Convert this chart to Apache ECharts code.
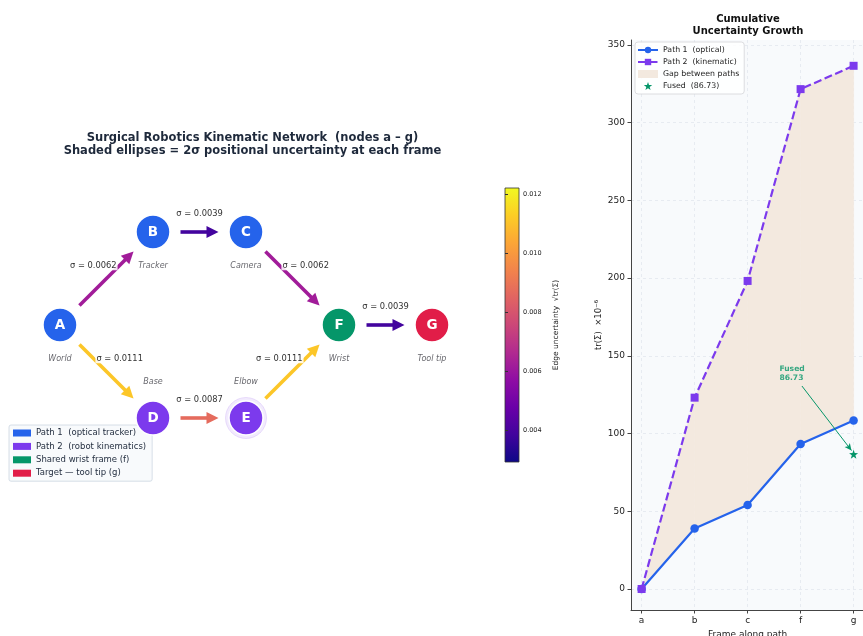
<!DOCTYPE html>
<html>
<head>
<meta charset="utf-8">
<script src="https://cdn.jsdelivr.net/npm/echarts@6/dist/echarts.min.js"></script>
<style>
  html, body { margin: 0; padding: 0; background: #ffffff; }
  #chart { width: 863px; height: 636px; }
</style>
</head>
<body>
<div id="chart"></div>
<script>
// ---- Kinematic network: frames (layout in graph units) ----
const nodeIds    = ['A', 'B', 'C', 'D', 'E', 'F', 'G'];
const nodeNames  = ['World', 'Tracker', 'Camera', 'Base', 'Elbow', 'Wrist', 'Tool tip'];
const nodeX      = [0, 1, 2, 1, 2, 3, 4];
const nodeY      = [0, 1, 1, -1, -1, 0, 0];
const nodeColors = ['#2563eb', '#2563eb', '#2563eb', '#7c3aed', '#7c3aed', '#059669', '#e11d48'];

// ---- Edges and their per-edge sigma ----
const edgeFrom  = ['A', 'B', 'C', 'A', 'D', 'E', 'F'];
const edgeTo    = ['B', 'C', 'F', 'D', 'E', 'F', 'G'];
const edgeSigma = [0.0062, 0.0039, 0.0062, 0.0111, 0.0087, 0.0111, 0.0039];

// ---- Cumulative uncertainty along each path, tr(Σ) ×1e-6 ----
const frames     = ['a', 'b', 'c', 'f', 'g'];
const path1Trace = [0, 38.9, 54.1, 93.3, 108.4];
const path2Trace = [0, 123.1, 198.2, 321.6, 336.6];
const fusedTrace = 86.73;

// ---- Tick labels ----
const traceTicks = [0, 50, 100, 150, 200, 250, 300, 350];
const cbarTicks  = [0.004, 0.006, 0.008, 0.010, 0.012];

const FONT = 'DejaVu Sans';

// plasma colormap
const PLASMA = ['#0d0887', '#41049d', '#6a00a8', '#8f0da4', '#b12a90', '#cc4778',
                '#e16462', '#f2844b', '#fca636', '#fcce25', '#f0f921'];
function hex2rgb(h) { return [1, 3, 5].map(i => parseInt(h.substr(i, 2), 16)); }
function plasma(t) {
  t = Math.max(0, Math.min(1, t));
  const f = t * (PLASMA.length - 1);
  const i = Math.min(PLASMA.length - 2, Math.floor(f));
  const w = f - i;
  const a = hex2rgb(PLASMA[i]), b = hex2rgb(PLASMA[i + 1]);
  const c = a.map((v, k) => Math.round(v + (b[k] - v) * w));
  return 'rgb(' + c.join(',') + ')';
}
const sigMin = Math.min(...edgeSigma) * 0.75;
const sigMax = Math.max(...edgeSigma) * 1.1;
const sigNorm = s => (s - sigMin) / (sigMax - sigMin);

const idx = id => nodeIds.indexOf(id);
const edgeData = edgeFrom.map((f, i) => {
  const a = idx(f), b = idx(edgeTo[i]);
  return [nodeX[a], nodeY[a], nodeX[b], nodeY[b], edgeSigma[i]];
});

const nodeData = nodeIds.map((id, i) => ({
  value: [nodeX[i], nodeY[i]],
  itemStyle: { color: nodeColors[i] },
  label: { formatter: id }
}));

const nameData = nodeNames.map((n, i) => ({
  value: [nodeX[i], nodeY[i]],
  label: { formatter: n, offset: nodeY[i] < 0 ? [0, -36] : [0, 34] }
}));

// one quadrilateral per segment between the two path curves
const gapData = frames.slice(0, -1).map((f, i) =>
  [i, path1Trace[i], path2Trace[i], i + 1, path1Trace[i + 1], path2Trace[i + 1]]);

const STAR = 'path://M0,-10 L2.35,-3.24 L9.51,-3.09 L3.8,1.24 L5.88,8.09 L0,4 L-5.88,8.09 L-3.8,1.24 L-9.51,-3.09 L-2.35,-3.24 Z';

const legendLeft = ['Path 1  (optical tracker)', 'Path 2  (robot kinematics)',
                    'Shared wrist frame (f)', 'Target — tool tip (g)'];
const legendLeftColors = ['#2563eb', '#7c3aed', '#059669', '#e11d48'];

const GAP_COLOR = '#f3e9df';

function edgeRender(params, api) {
  const x1 = api.value(0), y1 = api.value(1), x2 = api.value(2), y2 = api.value(3);
  const sigma = api.value(4);
  const p1 = api.coord([x1, y1]), p2 = api.coord([x2, y2]);
  const dx = p2[0] - p1[0], dy = p2[1] - p1[1];
  const L = Math.hypot(dx, dy), ux = dx / L, uy = dy / L;
  const gap = 27.5, head = 12, hw = 6;
  const s = [p1[0] + ux * gap, p1[1] + uy * gap];
  const t = [p2[0] - ux * gap, p2[1] - uy * gap];
  const b = [t[0] - ux * head, t[1] - uy * head];
  const nx = -uy, ny = ux;
  const color = plasma(sigNorm(sigma));
  // label sits beside the edge midpoint, offset along the left-hand normal
  const mx = (x1 + x2) / 2, my = (y1 + y2) / 2;
  const dl = Math.hypot(x2 - x1, y2 - y1);
  const lp = api.coord([mx - (y2 - y1) / dl * 0.2, my + (x2 - x1) / dl * 0.2]);
  return {
    type: 'group',
    children: [
      { type: 'line', shape: { x1: s[0], y1: s[1], x2: b[0] + ux * 1, y2: b[1] + uy * 1 },
        style: { stroke: color, lineWidth: 3.6, lineCap: 'butt' } },
      { type: 'polygon', shape: { points: [t, [b[0] + nx * hw, b[1] + ny * hw], [b[0] - nx * hw, b[1] - ny * hw]] },
        style: { fill: color } },
      { type: 'text', z2: 50, x: lp[0], y: lp[1],
        style: { text: 'σ = ' + sigma.toFixed(4), fill: '#333333', font: '8.3px "DejaVu Sans"',
                 align: 'center', verticalAlign: 'middle',
                 backgroundColor: 'rgba(255,255,255,0.85)', padding: [1, 1] } }
    ]
  };
}

function gapRender(params, api) {
  const pts = [
    api.coord([api.value(0), api.value(1)]),
    api.coord([api.value(3), api.value(4)]),
    api.coord([api.value(3), api.value(5)]),
    api.coord([api.value(0), api.value(2)])
  ];
  return { type: 'polygon', shape: { points: pts },
           style: { fill: GAP_COLOR, stroke: GAP_COLOR, lineWidth: 0.6 } };
}

const option = {
  backgroundColor: '#ffffff',
  animation: false,
  textStyle: { fontFamily: FONT },
  title: [
    { text: 'Surgical Robotics Kinematic Network  (nodes a – g)\nShaded ellipses = 2σ positional uncertainty at each frame',
      left: 252.5, top: 131, padding: 0, textAlign: 'center',
      textStyle: { fontFamily: FONT, fontSize: 11.5, fontWeight: 'bold', color: '#1e293b', lineHeight: 13.5 } },
    { text: 'Cumulative\nUncertainty Growth',
      left: 748, top: 13, padding: 0, textAlign: 'center',
      textStyle: { fontFamily: FONT, fontSize: 10, fontWeight: 'bold', color: '#111111', lineHeight: 12.5 } }
  ],
  grid: [
    // network canvas
    { left: 13.5, top: 185.5, width: 465, height: 279, show: false, outerBoundsMode: 'none' },
    // cumulative uncertainty plot
    { left: 631, top: 40, width: 233.2, height: 570, show: true, backgroundColor: '#f8fafc', borderWidth: 0,
      outerBoundsMode: 'none' },
    // colour bar
    { left: 505, top: 188, width: 14, height: 274, show: true, borderColor: '#333333', borderWidth: 0.8,
      outerBoundsMode: 'none',
      backgroundColor: { type: 'linear', x: 0, y: 1, x2: 0, y2: 0,
        colorStops: PLASMA.map((c, i) => ({ offset: i / (PLASMA.length - 1), color: c })) } }
  ],
  xAxis: [
    { gridIndex: 0, type: 'value', min: -0.5, max: 4.5, show: false },
    { gridIndex: 1, type: 'value', min: -0.2, max: 4.2,
      name: 'Frame along path', nameLocation: 'middle', nameGap: 18,
      nameTextStyle: { fontFamily: FONT, fontSize: 9, color: '#222222' },
      axisLine: { show: true, onZero: false, lineStyle: { color: '#444444', width: 1 } },
      axisTick: { show: true, length: 3.5, customValues: frames.map((f, i) => i), lineStyle: { color: '#444444' } },
      axisLabel: { customValues: frames.map((f, i) => i), formatter: v => frames[Math.round(v)],
                   fontFamily: FONT, fontSize: 9, color: '#222222', margin: 6 },
      splitLine: { show: true, lineStyle: { color: '#e3e7ee', type: [3, 3], width: 0.8 } } },
    { gridIndex: 2, type: 'value', min: 0, max: 1, show: false }
  ],
  yAxis: [
    { gridIndex: 0, type: 'value', min: -1.5, max: 1.5, show: false },
    { gridIndex: 1, type: 'value', min: -13.5, max: 353.2,
      name: 'tr(Σ)  ×10⁻⁶', nameLocation: 'middle', nameGap: 28,
      nameTextStyle: { fontFamily: FONT, fontSize: 8.5, color: '#222222' },
      axisLine: { show: true, onZero: false, lineStyle: { color: '#444444', width: 1 } },
      axisTick: { show: true, length: 3.5, customValues: traceTicks, lineStyle: { color: '#444444' } },
      axisLabel: { customValues: traceTicks, fontFamily: FONT, fontSize: 9, color: '#222222', margin: 6 },
      splitLine: { show: true, lineStyle: { color: '#e3e7ee', type: [3, 3], width: 0.8 } } },
    { gridIndex: 2, type: 'value', min: sigMin, max: sigMax, position: 'right',
      name: 'Edge uncertainty  √tr(Σ)', nameLocation: 'middle', nameGap: 33, nameRotate: 90,
      nameTextStyle: { fontFamily: FONT, fontSize: 7.5, color: '#222222' },
      axisLine: { show: false },
      axisTick: { show: true, length: 3, customValues: cbarTicks, lineStyle: { color: '#333333' } },
      axisLabel: { customValues: cbarTicks, formatter: v => v.toFixed(3),
                   fontFamily: FONT, fontSize: 6.5, color: '#222222', margin: 4 },
      splitLine: { show: false } }
  ],
  legend: [
    { data: legendLeft, orient: 'vertical', left: 9, top: 425, icon: 'rect',
      itemWidth: 18, itemHeight: 7, itemGap: 3.4, padding: [3, 6, 3, 4],
      backgroundColor: '#f8fafc', borderColor: '#cbd5e1', borderWidth: 0.8, borderRadius: 2,
      textStyle: { fontFamily: FONT, fontSize: 8.5, color: '#1e293b', lineHeight: 10 },
      selectedMode: false },
    { data: [
        { name: 'Path 1  (optical)' },
        { name: 'Path 2  (kinematic)' },
        { name: 'Gap between paths', icon: 'rect', itemStyle: { color: GAP_COLOR } },
        { name: 'Fused  (86.73)', icon: STAR }
      ],
      orient: 'vertical', left: 635, top: 42, itemWidth: 20, itemHeight: 8, itemGap: 3,
      padding: [3.5, 5, 3.5, 2],
      backgroundColor: 'rgba(255,255,255,0.85)', borderColor: '#d4d4d8', borderWidth: 0.8, borderRadius: 3,
      textStyle: { fontFamily: FONT, fontSize: 7.8, color: '#222222', lineHeight: 9 },
      selectedMode: false }
  ],
  series: [
    // legend entries for the network
    ...legendLeft.map((n, i) => ({ name: n, type: 'scatter', xAxisIndex: 0, yAxisIndex: 0, data: [],
                                   itemStyle: { color: legendLeftColors[i], opacity: 1 } })),
    // edges with arrows and sigma labels
    { type: 'custom', xAxisIndex: 0, yAxisIndex: 0, renderItem: edgeRender, data: edgeData, z: 2, silent: true },
    // 2σ ellipse around the elbow frame
    { type: 'scatter', xAxisIndex: 0, yAxisIndex: 0, z: 3, silent: true, symbolSize: 41,
      data: [[nodeX[idx('E')], nodeY[idx('E')]]],
      itemStyle: { color: 'rgba(124,58,237,0.10)', borderColor: 'rgba(124,58,237,0.18)', borderWidth: 0.8, opacity: 1 } },
    // nodes
    { type: 'scatter', xAxisIndex: 0, yAxisIndex: 0, z: 4, silent: true, symbolSize: 34,
      data: nodeData,
      itemStyle: { borderColor: '#ffffff', borderWidth: 1.5, opacity: 1 },
      label: { show: true, position: 'inside', fontFamily: FONT, fontSize: 13.5, fontWeight: 'bold', color: '#ffffff' } },
    // frame names
    { type: 'scatter', xAxisIndex: 0, yAxisIndex: 0, z: 4, silent: true, symbolSize: 0,
      data: nameData,
      label: { show: true, position: 'inside', fontFamily: FONT, fontSize: 8, fontStyle: 'italic', color: '#3f3f46' } },

    // gap fill between the two path curves
    { name: 'Gap between paths', type: 'custom', xAxisIndex: 1, yAxisIndex: 1, z: 1, silent: true,
      renderItem: gapRender, data: gapData, itemStyle: { color: GAP_COLOR } },
    // path 1
    { name: 'Path 1  (optical)', type: 'line', xAxisIndex: 1, yAxisIndex: 1, z: 3,
      data: path1Trace.map((v, i) => [i, v]),
      symbol: 'circle', symbolSize: 8.5,
      lineStyle: { color: '#2563eb', width: 2.2 }, itemStyle: { color: '#2563eb' } },
    // path 2
    { name: 'Path 2  (kinematic)', type: 'line', xAxisIndex: 1, yAxisIndex: 1, z: 4,
      data: path2Trace.map((v, i) => [i, v]),
      symbol: 'rect', symbolSize: 8,
      lineStyle: { color: '#7c3aed', width: 2.2, type: [8, 3.5] }, itemStyle: { color: '#7c3aed' } },
    // fused estimate at the tool tip
    { name: 'Fused  (86.73)', type: 'scatter', xAxisIndex: 1, yAxisIndex: 1, z: 5,
      data: [[frames.length - 1, fusedTrace]], symbol: STAR, symbolSize: 9,
      itemStyle: { color: '#059669', opacity: 1 },
      markLine: { silent: true, symbol: ['none', 'arrow'], symbolSize: [5, 7],
        lineStyle: { color: '#059669', width: 1, type: 'solid' }, label: { show: false },
        data: [[{ coord: [3.025, 130.6] }, { coord: [frames.length - 1 - 0.04, fusedTrace + 2.4] }]] } },
    // annotation text for the fused value
    { type: 'scatter', xAxisIndex: 1, yAxisIndex: 1, z: 5, silent: true, symbolSize: 0,
      data: [[2.6, 138.7]],
      label: { show: true, position: 'right', distance: 0, align: 'left',
               formatter: 'Fused\n' + fusedTrace.toFixed(2),
               fontFamily: FONT, fontSize: 7.6, fontWeight: 'bold', color: '#059669', lineHeight: 9 } }
  ]
};

const chart = echarts.init(document.getElementById('chart'), null, { renderer: 'canvas' });
chart.setOption(option);
</script>
</body>
</html>
